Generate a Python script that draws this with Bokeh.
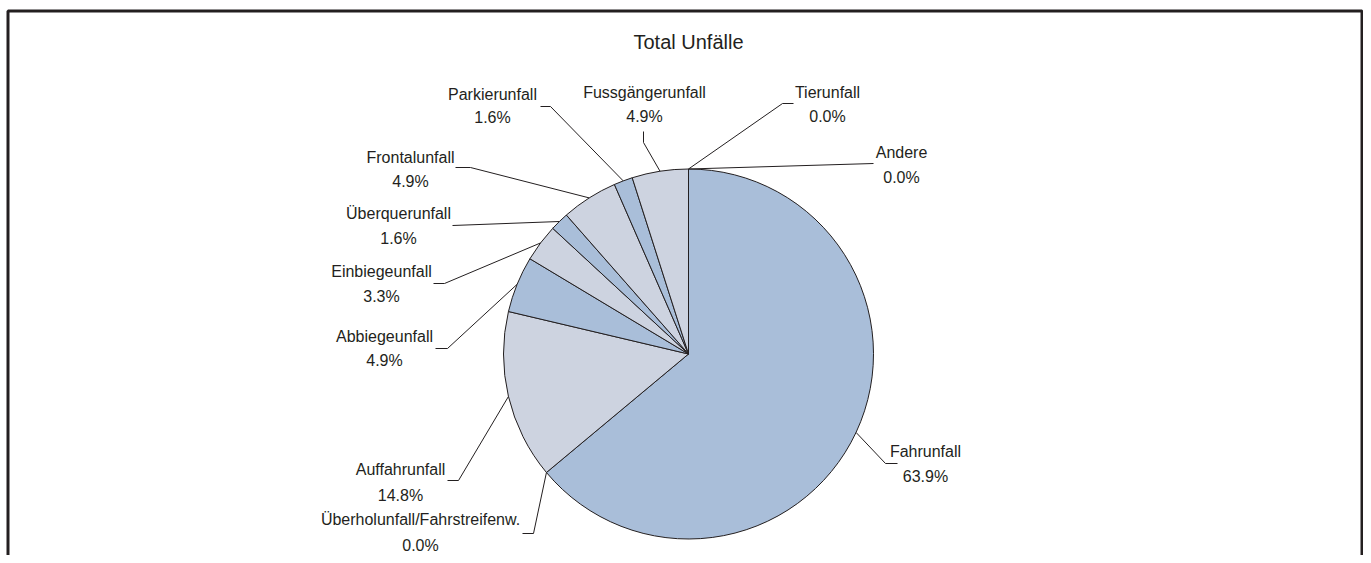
import math
from bokeh.plotting import figure
from bokeh.models import Range1d, ColumnDataSource
from bokeh.core.properties import value
from bokeh.embed import file_html
from bokeh.resources import INLINE

# ---------------- data ----------------
title_text = "Total Unfälle"
categories = ["Andere", "Fahrunfall", "Überholunfall/Fahrstreifenw.", "Auffahrunfall",
              "Abbiegeunfall", "Einbiegeunfall", "Überquerunfall", "Frontalunfall",
              "Parkierunfall", "Fussgängerunfall", "Tierunfall"]
counts = [0, 39, 0, 9, 3, 2, 1, 3, 1, 3, 0]
colors = ["#cdd3e0", "#a9bed9", "#cdd3e0", "#cdd3e0", "#a9bed9", "#cdd3e0",
          "#a9bed9", "#cdd3e0", "#a9bed9", "#cdd3e0", "#a9bed9"]

# ---------------- layout (picture pixel coords) ----------------
W, H = 1363, 555
def X(px): return px
def Y(py): return H - py

CX, CY, R = 688, 353.5, 185
label_cx = [901, 925, 420, 400, 384, 381, 398, 410, 492, 644, 827]
label_y1 = [152, 451, 519, 469, 336, 271, 213, 157, 94, 92, 92]
label_y2 = [177, 476, 545, 495, 360, 296, 238, 181, 117, 116, 116]
leader_tail = [
    [(873, 163)],
    [(885, 463), (897, 463)],
    [(533, 533), (522, 533)],
    [(458, 480), (447, 480)],
    [(447, 348), (435, 348)],
    [(444, 283), (433, 283)],
    [(452, 225)],
    [(470, 167), (455, 167)],
    [(550, 106), (540, 106)],
    [(643, 142), (643, 131)],
    [(782, 103), (793, 103)],
]
INK = "#231f20"
FONT = value("Liberation Sans")

p = figure(width=W, height=H, output_backend="svg", toolbar_location=None,
           x_range=Range1d(0, W), y_range=Range1d(0, H),
           min_border=0, x_axis_type=None, y_axis_type=None)
p.outline_line_color = None
p.grid.visible = False
p.background_fill_color = "white"
p.border_fill_color = "white"

total = sum(counts)
starts, ends, mids = [], [], []
cum = 0
for c in counts:
    t0 = 2 * math.pi * cum / total
    cum += c
    t1 = 2 * math.pi * cum / total
    starts.append(t0); ends.append(t1); mids.append((t0 + t1) / 2)

# wedges (non-zero slices only)
ws = dict(x=[], y=[], s=[], e=[], c=[])
for i, cnt in enumerate(counts):
    if cnt > 0:
        ws["x"].append(X(CX)); ws["y"].append(Y(CY))
        ws["s"].append(math.pi / 2 - starts[i]); ws["e"].append(math.pi / 2 - ends[i])
        ws["c"].append(colors[i])
p.wedge(x="x", y="y", radius=R, start_angle="s", end_angle="e", direction="clock",
        fill_color="c", line_color=INK, line_width=1, source=ColumnDataSource(ws))

# leader lines
lx, ly = [], []
for i in range(len(categories)):
    ex = CX + R * math.sin(mids[i])
    ey = CY - R * math.cos(mids[i])
    pts = [(ex, ey)] + leader_tail[i]
    lx.append([X(a) for a, b in pts]); ly.append([Y(b) for a, b in pts])
p.multi_line(xs=lx, ys=ly, line_color=INK, line_width=1)

# labels
pct = [f"{c / total * 100:.1f}%" for c in counts]
p.text(x=[X(v) for v in label_cx], y=[Y(v) for v in label_y1], text=categories,
       text_font=FONT, text_font_size="16px", text_color=INK,
       text_align="center", text_baseline="middle")
p.text(x=[X(v) for v in label_cx], y=[Y(v) for v in label_y2], text=pct,
       text_font=FONT, text_font_size="16px", text_color=INK,
       text_align="center", text_baseline="middle")

# title
p.text(x=[X(688)], y=[Y(41)], text=[title_text], text_font=FONT, text_font_size="20px",
       text_color=INK, text_align="center", text_baseline="middle")

# frame (left, top, right)
p.multi_line(xs=[[X(7.5), X(7.5), X(1361.5), X(1361.5)]],
             ys=[[Y(563), Y(10.5), Y(10.5), Y(563)]],
             line_color="#231f20", line_width=3)

open("out.html", "w").write(file_html(p, INLINE))
